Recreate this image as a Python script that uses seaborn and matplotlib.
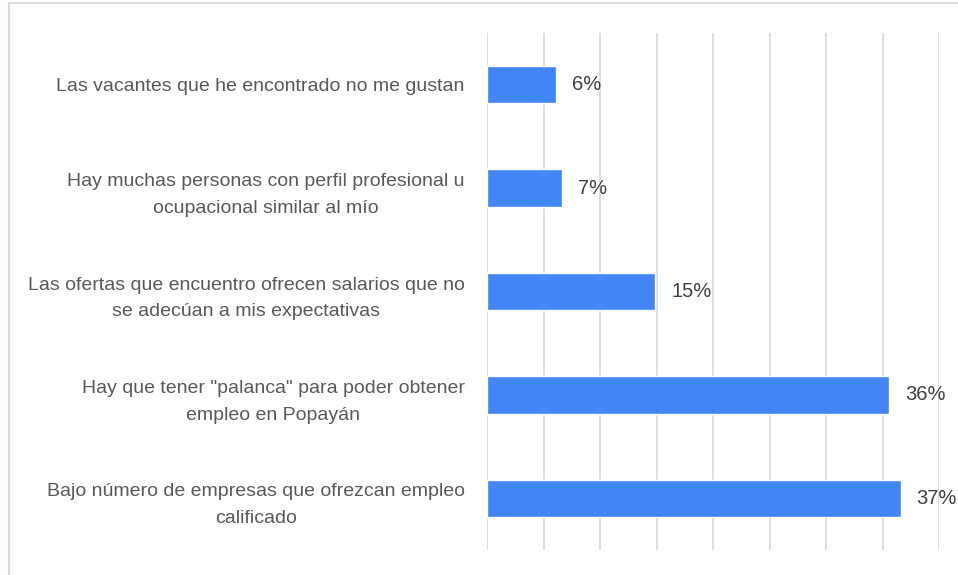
import matplotlib
matplotlib.use("Agg")
import matplotlib.pyplot as plt
import seaborn as sns
import pandas as pd
from matplotlib.patches import Rectangle

# data
razones = [
    "Las vacantes que he encontrado no me gustan",
    "Hay muchas personas con perfil profesional u\nocupacional similar al mío",
    "Las ofertas que encuentro ofrecen salarios que no\nse adecúan a mis expectativas",
    "Hay que tener \"palanca\" para poder obtener\nempleo en Popayán",
    "Bajo número de empresas que ofrezcan empleo\ncalificado",
]
porcentajes = [6.1, 6.6, 14.9, 35.6, 36.6]
etiquetas = ["6%", "7%", "15%", "36%", "37%"]

df = pd.DataFrame({"razon": razones, "pct": porcentajes})

sns.set_theme(style="white")
plt.rcParams["font.family"] = ["Liberation Sans", "DejaVu Sans"]

fig = plt.figure(figsize=(9.58, 5.75), dpi=100)
ax = fig.add_axes([487 / 958, 1 - 550 / 575, (939 - 487) / 958, (550 - 33) / 575])

sns.barplot(data=df, x="pct", y="razon", color="#4285F4", saturation=1,
            width=0.36, ax=ax, zorder=3)

ax.set_xlim(0, 40)
ax.set_xticks(range(0, 41, 5))
ax.set_xticklabels([])
ax.tick_params(axis="x", length=0)
ax.tick_params(axis="y", length=0, pad=16)
ax.grid(axis="x", color="#d9d9d9", linewidth=1.2, zorder=0)
for s in ax.spines.values():
    s.set_visible(False)
ax.set_xlabel("")
ax.set_ylabel("")

for lbl in ax.get_yticklabels():
    lbl.set_multialignment("center")
    lbl.set_fontsize(14)
    lbl.set_linespacing(1.75)
    lbl.set_color("#595959")

for bar, txt in zip(ax.patches, etiquetas):
    ax.annotate(txt, (bar.get_width(), bar.get_y() + bar.get_height() / 2),
                xytext=(16, 0), textcoords="offset pixels",
                va="center", ha="left", fontsize=14.5, color="#404040")

# outer frame of the original image
fig.patches.append(Rectangle((9 / 958, -0.1), 1.2, 1 - 3 / 575 + 0.1,
                             transform=fig.transFigure, fill=False,
                             edgecolor="#d9d9d9", linewidth=1.5))

fig.savefig("out.png", dpi=100)
